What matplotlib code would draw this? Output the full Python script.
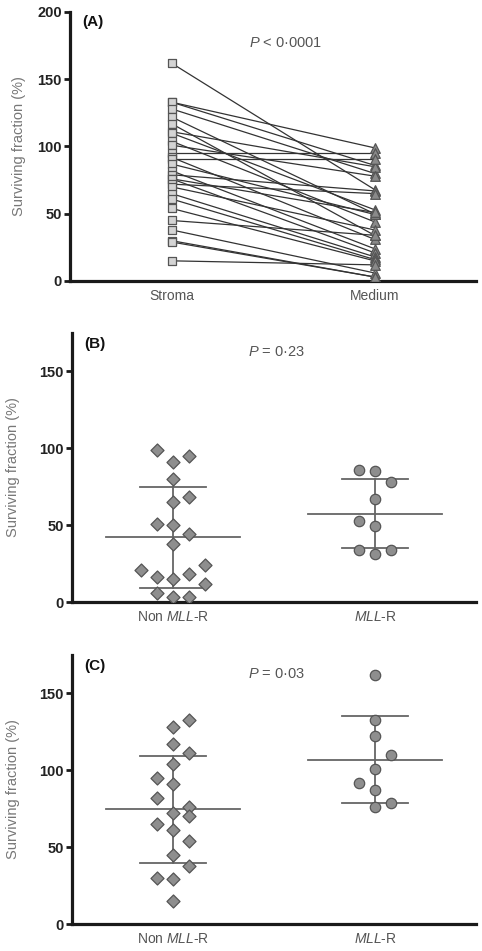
import matplotlib
matplotlib.use("Agg")
import matplotlib.pyplot as plt
import numpy as np

plt.rcParams['font.family'] = ['Liberation Sans', 'DejaVu Sans']
plt.rcParams['mathtext.fontset'] = 'custom'
plt.rcParams['mathtext.rm'] = 'Liberation Sans'
plt.rcParams['mathtext.it'] = 'Liberation Sans:italic'

# panel A: paired values per patient
stroma = [162, 133, 133, 128, 122, 117, 111, 110, 104, 101, 95, 92, 91, 87,
          82, 79, 76, 76, 72, 70, 65, 61, 54, 45, 38, 30, 29, 15]
medium = [68, 99, 86, 80, 50, 34, 85, 53, 44, 78, 95, 31, 91, 49.5,
          24, 67, 51, 21, 65, 38, 18, 16, 15, 34, 6, 3, 3, 12]
a_labels = ["Stroma", "Medium"]

# panel B: medium only
b_non = [99, 95, 91, 80, 68, 65, 51, 50, 44, 38, 21, 24, 18, 16, 15, 12, 6, 3, 3]
b_non_col = [-1, 1, 0, 0, 1, 0, -1, 0, 1, 0, -2, 2, 1, -1, 0, 2, -1, 0, 1]
b_mll = [86, 85, 78, 67, 53, 49.5, 34, 31, 34]
b_mll_col = [-1, 0, 1, 0, -1, 0, -1, 0, 1]

# panel C: stroma
c_non = [133, 128, 117, 111, 104, 95, 91, 82, 76, 72, 70, 65, 61, 54, 45, 38, 30, 29, 15]
c_non_col = [1, 0, 0, 1, 0, -1, 0, -1, 1, 0, 1, -1, 0, 1, 0, 1, -1, 0, 0]
c_mll = [162, 133, 122, 110, 101, 92, 87, 79, 76]
c_mll_col = [0, 0, 0, 1, 0, -1, 0, 1, 0]

group_labels = ["Non $\\it{MLL}$-R", "$\\it{MLL}$-R"]

W, H = 482, 951
fig = plt.figure(figsize=(W / 100, H / 100), dpi=100)

def px_axes(left, top, right, bottom):
    return fig.add_axes([left / W, 1 - bottom / H, (right - left) / W, (bottom - top) / H])

def style(ax, ymax, yticks, labels, lpad):
    ax.set_xlim(-0.5, 1.5)
    ax.set_ylim(0, ymax)
    for s in ['top', 'right']:
        ax.spines[s].set_visible(False)
    for s in ['left', 'bottom']:
        ax.spines[s].set_linewidth(2.3)
        ax.spines[s].set_color('#1a1a1a')
    ax.spines['left'].set_bounds(0, ymax)
    ax.set_yticks(yticks)
    ax.set_yticklabels([str(t) for t in yticks], fontsize=10.5, fontweight='bold', color='#222222')
    ax.tick_params(axis='y', length=4, width=2, color='#1a1a1a', pad=2)
    ax.set_xticks([0, 1])
    ax.set_xticklabels(labels, fontsize=10, color='#555555')
    ax.tick_params(axis='x', length=0, pad=6)
    ax.set_ylabel("Surviving fraction (%)", fontsize=10.5, color='#777777', labelpad=lpad)
    ax.patch.set_alpha(0)

# ---- A ----
axA = px_axes(70, 12, 476, 281)
style(axA, 200, [0, 50, 100, 150, 200], a_labels, 8)
for s, m in zip(stroma, medium):
    axA.plot([0, 1], [s, m], color='#333333', lw=0.9, zorder=1)
axA.scatter(np.zeros(len(stroma)), stroma, marker='s', s=40, facecolor='#d4d4d4',
            edgecolor='#555555', linewidth=0.9, zorder=3)
axA.scatter(np.ones(len(medium)), medium, marker='^', s=48, facecolor='#8a8a8a',
            edgecolor='#555555', linewidth=0.9, zorder=3)
axA.text(0.03, 0.99, "(A)", transform=axA.transAxes, fontsize=11, fontweight='bold',
         va='top', ha='left', color='#111111')
axA.text(0.53, 0.87, "$\\it{P}$ < 0·0001", transform=axA.transAxes, fontsize=10.5,
         color='#555555', ha='center')

def dot_panel(ax, non, non_col, mll, mll_col, letter, ptext):
    dx = 0.08
    for i, (vals, cols, mk, ms) in enumerate([(non, non_col, 'D', 44), (mll, mll_col, 'o', 56)]):
        vals = np.array(vals, dtype=float)
        x = i + np.array(cols) * dx
        ax.scatter(x, vals, marker=mk, s=ms, facecolor='#8e8e8e', edgecolor='#555555',
                   linewidth=0.9, zorder=3)
        m = vals.mean()
        sd = vals.std(ddof=1)
        lo, hi = max(m - sd, 0), m + sd
        ax.plot([i - 0.33, i + 0.33], [m, m], color='#666666', lw=1.3, zorder=2)
        ax.plot([i - 0.165, i + 0.165], [hi, hi], color='#666666', lw=1.3, zorder=2)
        ax.plot([i - 0.165, i + 0.165], [lo, lo], color='#666666', lw=1.3, zorder=2)
        ax.plot([i, i], [lo, hi], color='#666666', lw=1.3, zorder=2)
    ax.text(0.03, 0.985, letter, transform=ax.transAxes, fontsize=11, fontweight='bold',
            va='top', ha='left', color='#111111')
    ax.text(0.505, 0.93, ptext, transform=ax.transAxes, fontsize=10.5, color='#555555',
            ha='center', va='center')

# ---- B ----
axB = px_axes(72, 333, 476, 602)
style(axB, 175, [0, 50, 100, 150], group_labels, 14)
dot_panel(axB, b_non, b_non_col, b_mll, b_mll_col, "(B)", "$\\it{P}$ = 0·23")

# ---- C ----
axC = px_axes(72, 655, 476, 924)
style(axC, 175, [0, 50, 100, 150], group_labels, 14)
dot_panel(axC, c_non, c_non_col, c_mll, c_mll_col, "(C)", "$\\it{P}$ = 0·03")

fig.savefig("out.png", dpi=100)
